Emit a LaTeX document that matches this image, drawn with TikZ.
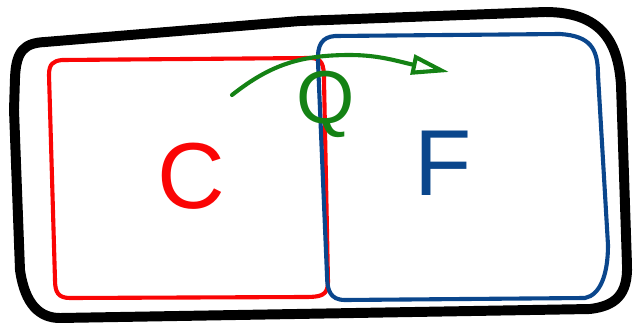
\documentclass[tikz,border=0pt]{standalone}
\usepackage{fontspec}
\setsansfont{Liberation Sans}
\usetikzlibrary{arrows.meta}
\definecolor{cred}{RGB}{250,5,5}
\definecolor{fblue}{RGB}{10,70,140}
\definecolor{qgreen}{RGB}{20,130,20}
\tikzset{
    setline/.style={line width=#1, line join=round, line cap=round},
    letter/.style={font=\sffamily\fontsize{#1}{#1}\selectfont, inner sep=0pt}
}
\begin{document}
\begin{tikzpicture}[x=0.03cm,y=-0.03cm]
\useasboundingbox (0,0) rectangle (633,331);
% outer set
\draw[setline=8.5pt] (14,110) -- (15,78) .. controls (16,50) and (25,43) .. (45,42)
    -- (300,21) -- (545,12) .. controls (600,12) and (618,40) .. (621,85)
    -- (627,265) .. controls (628,295) and (615,306) .. (590,309)
    -- (60,318) .. controls (40,318) and (25,305) .. (20,270) -- cycle;
% C
\draw[setline=3.5pt, cred] (62,60) -- (310,58) .. controls (322,58) and (324,64) .. (324,80)
    -- (328,282) .. controls (328,296) and (320,297) .. (305,297)
    -- (70,298) .. controls (58,298) and (55,292) .. (55,280)
    -- (49,75) .. controls (49,64) and (53,61) .. (62,60);
\node[letter=80, text=cred] (c) at (191,176) {C};
% F
\draw[setline=3.5pt, fblue] (335,36) -- (560,34) .. controls (590,36) and (598,48) .. (598,75)
    -- (608,245) .. controls (608,275) and (600,295) .. (585,298)
    -- (345,300) .. controls (330,300) and (327,290) .. (327,275)
    -- (318,62) .. controls (317,45) and (322,37) .. (335,36);
\node[letter=80, text=fblue] (f) at (443,163) {F};
% Q
\node[letter=64, text=qgreen] (q) at (326,104) {Q};
\coordinate (qstart) at (232,95);
\coordinate (qend) at (449,72);
\draw[setline=3.5pt, qgreen, -{Triangle[open, length=32pt, width=17pt, line width=3.5pt]}]
    (qstart) .. controls (270,65) and (300,55) .. (350,55) .. controls (380,55) and (400,62) .. (qend);
\end{tikzpicture}
\end{document}
